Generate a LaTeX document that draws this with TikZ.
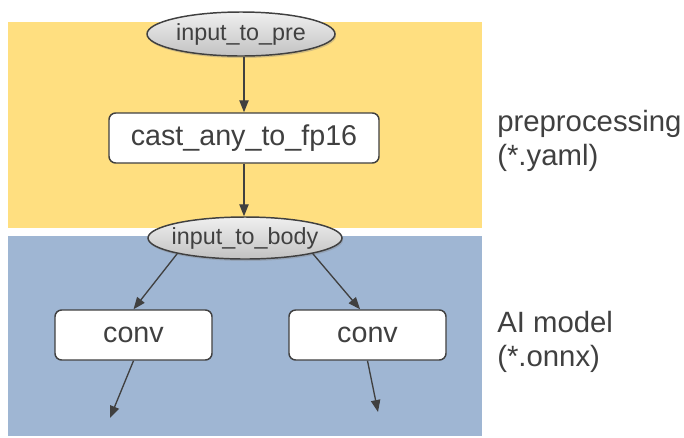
\documentclass[tikz,border=0pt]{standalone}
\usepackage{fontspec}
\setmainfont{Liberation Sans}
\usetikzlibrary{shapes.geometric,arrows.meta,shadows}
\definecolor{bandyellow}{HTML}{FFDF80}
\definecolor{bandblue}{HTML}{9FB6D3}
\definecolor{ink}{HTML}{404040}
\begin{document}
\begin{tikzpicture}[x=0.75pt,y=-0.75pt,
  oval/.style={ellipse, draw=ink, line width=1.1pt, inner ysep=0pt, inner xsep=-6pt,
    top color=white!94!black, bottom color=white!76!black,
    drop shadow={opacity=0.35, shadow xshift=0.8pt, shadow yshift=-1.5pt},
    text=ink, font=\fontsize{17.5}{19}\selectfont},
  opbox/.style={rectangle, rounded corners=5pt, draw=ink, line width=1.1pt, fill=white,
    inner sep=0pt, text=ink, font=\fontsize{21.5}{24}\selectfont},
  link/.style={draw=ink, line width=1pt, -{Triangle[length=9pt,width=7pt]}},
  side/.style={text=ink, align=left, anchor=west, inner sep=0pt,
    font=\fontsize{22}{25}\selectfont}]
\useasboundingbox[fill=white] (0,0) rectangle (684,437);
\fill[bandyellow] (8,22) rectangle (482,228);
\fill[bandblue] (8,236) rectangle (482,436);

\node[oval, minimum width=141pt, minimum height=33pt] (pre) at (241,34) {input\_to\_pre};
\node[opbox, minimum width=202.5pt, minimum height=37.5pt] (cast) at (244,138) {cast\_any\_to\_fp16};
\node[oval, minimum width=145.5pt, minimum height=31.5pt] (body) at (245,238) {input\_to\_body};
\node[opbox, minimum width=117.75pt, minimum height=37.5pt] (convL) at (133.5,335) {conv};
\node[opbox, minimum width=117.75pt, minimum height=37.5pt] (convR) at (367.5,335) {conv};
\coordinate (outL) at (110,418);
\coordinate (outR) at (378,412);

\draw[link] (pre.south -| cast.north) -- (cast.north);
\draw[link] (cast.south) -- (body.north -| cast.south);
\draw[link] (body.193) -- (convL.north);
\draw[link] (body.-13) -- ([xshift=-5.6pt]convR.north);
\draw[link] (convL.south) -- (outL);
\draw[link] (convR.south) -- (outR);

\node[side] (lblpre) at (497,141) {preprocessing\\(*.yaml)};
\node[side] (lblai) at (497,342) {AI model\\(*.onnx)};
\end{tikzpicture}
\end{document}
